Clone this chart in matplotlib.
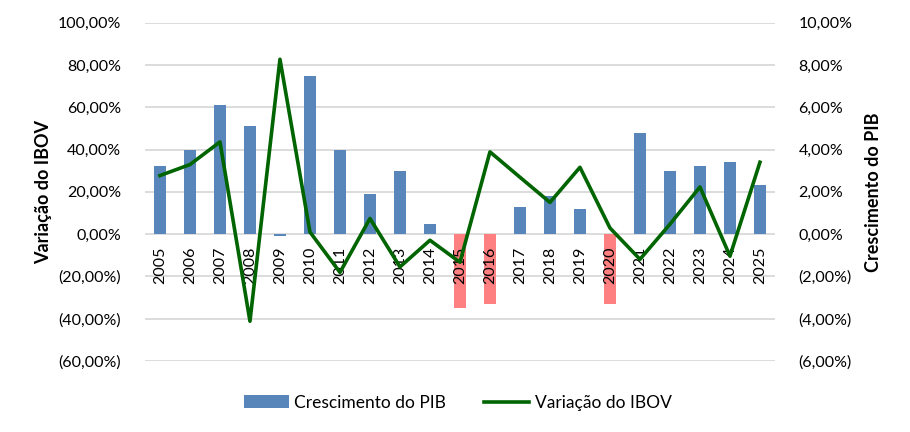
import matplotlib.pyplot as plt
from matplotlib.ticker import FuncFormatter
from matplotlib.patches import Patch
from matplotlib.lines import Line2D

plt.rcParams['font.family'] = ['Lato', 'DejaVu Sans']

anos = [str(a) for a in range(2005, 2026)]
pib = [3.2, 4.0, 6.1, 5.1, -0.1, 7.5, 4.0, 1.9, 3.0, 0.5, -3.5,
       -3.3, 1.3, 1.8, 1.2, -3.3, 4.8, 3.0, 3.2, 3.4, 2.3]
ibov = [27.7, 32.9, 43.6, -41.2, 82.7, 1.0, -18.1, 7.4, -15.5, -2.9, -13.3,
        38.9, 26.9, 15.0, 31.6, 2.9, -11.9, 4.7, 22.3, -10.4, 34.0]

azul = '#5886BA'
rosa = '#FF8080'
verde = '#006400'


def fmt_pct(v, pos):
    s = '{:,.2f}%'.format(abs(v)).replace('.', '#').replace(',', '.').replace('#', ',')
    return '(' + s + ')' if v < 0 else s


fig = plt.figure(figsize=(9.1, 4.32), dpi=100)
ax = fig.add_axes([0.1593, 0.1644, 0.6923, 0.7831])
ax2 = ax.twinx()

x = list(range(len(anos)))
# a queda de 2009 (-0,1%) fica azul como no original
cores = [azul if v > -1 else rosa for v in pib]
ax2.bar(x, pib, width=0.4, color=cores, zorder=2)
ax2.set_ylim(-6, 10)
ax2.set_yticks(range(-6, 11, 2))
ax2.yaxis.set_major_formatter(FuncFormatter(fmt_pct))
ax2.grid(axis='y', color='#D9D9D9', linewidth=1.3, zorder=0)
ax2.set_axisbelow(True)
ax2.set_ylabel('Crescimento do PIB', fontsize=13, fontweight='bold', labelpad=9)

ax.plot(x, ibov, color=verde, linewidth=2.6, zorder=3)
ax.set_ylim(-60, 100)
ax.set_yticks(range(-60, 101, 20))
ax.yaxis.set_major_formatter(FuncFormatter(fmt_pct))
ax.set_xlim(-0.5, len(anos) - 0.5)
ax.spines['bottom'].set_position(('data', 0))  # antes dos rótulos, senão reseta
ax.set_xticks(x)
ax.set_xticklabels(anos)
ax.tick_params(axis='x', length=0, pad=9, labelrotation=90, labelsize=11.5)
ax.set_ylabel('Variação do IBOV', fontsize=13, fontweight='bold', labelpad=4)

ax.set_zorder(ax2.get_zorder() + 1)
ax.patch.set_visible(False)

for a in (ax, ax2):
    for s in a.spines.values():
        s.set_visible(False)
    a.tick_params(axis='y', length=0, labelsize=11.5, pad=17)

handles = [Patch(facecolor=azul), Line2D([0], [0], color=verde, linewidth=2.6)]
fig.legend(handles, ['Crescimento do PIB', 'Variação do IBOV'], loc='center',
           bbox_to_anchor=(0.503, 0.068), ncol=2, frameon=False, fontsize=12.5,
           handlelength=2.6, columnspacing=2.2, handletextpad=0.3)

fig.savefig('out.png', dpi=100)
